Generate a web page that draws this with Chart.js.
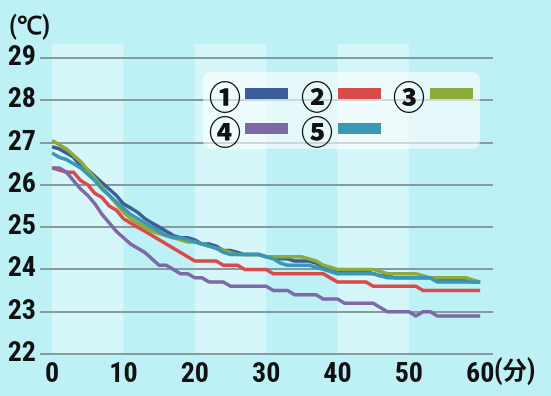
<!DOCTYPE html>
<html><head><meta charset="utf-8">
<script src="https://cdn.jsdelivr.net/npm/chart.js@4"></script>
<style>
html,body{margin:0;padding:0;background:#bef1f6;}
#wrap{position:relative;width:551px;height:396px;overflow:hidden;background:#bef1f6;}
#c{position:absolute;left:0;top:0;}
.t{position:absolute;font-family:"Roboto Condensed",sans-serif;font-weight:bold;color:#111;line-height:1;white-space:nowrap;}
.cjk{font-family:"Noto Sans CJK JP",sans-serif;}
#legend{position:absolute;left:203px;top:72px;width:277px;height:77px;background:rgba(255,255,255,0.6);border-radius:8px;}
.num{position:absolute;font-family:"Noto Sans CJK JP",sans-serif;font-weight:900;font-size:32px;line-height:32px;color:#111;}
.bar{position:absolute;width:43px;height:11px;}
</style></head>
<body>
<div id="wrap">
<canvas id="c" width="551" height="396"></canvas>
<div class="t" style="left:9px;top:13px;font-size:25px;">(℃)</div>
<div class="t" style="left:494px;top:357px;font-size:27px;">(<span class="cjk" style="font-size:24px">分</span>)</div>
<div id="legend"></div>
</div>
<script>
const minutes = [0,1,2,3,4,5,6,7,8,9,10,11,12,13,14,15,16,17,18,19,20,21,22,23,24,25,26,27,28,29,30,31,32,33,34,35,36,37,38,39,40,41,42,43,44,45,46,47,48,49,50,51,52,53,54,55,56,57,58,59,60];
const s1 = [26.9,26.85,26.75,26.65,26.45,26.35,26.2,26.05,25.9,25.75,25.55,25.45,25.35,25.2,25.1,25.0,24.9,24.8,24.75,24.75,24.7,24.6,24.6,24.55,24.45,24.45,24.4,24.35,24.35,24.35,24.3,24.3,24.25,24.25,24.2,24.2,24.2,24.15,24.05,24.0,23.95,23.95,23.95,23.95,23.95,23.9,23.85,23.85,23.8,23.8,23.8,23.8,23.8,23.8,23.75,23.75,23.75,23.75,23.75,23.7,23.7];
const s2 = [26.4,26.35,26.3,26.3,26.1,26.0,25.8,25.7,25.5,25.4,25.2,25.1,25.0,24.9,24.8,24.7,24.6,24.5,24.4,24.3,24.2,24.2,24.2,24.2,24.1,24.1,24.1,24.0,24.0,24.0,24.0,23.9,23.9,23.9,23.9,23.9,23.9,23.9,23.9,23.8,23.7,23.7,23.7,23.7,23.7,23.6,23.6,23.6,23.6,23.6,23.6,23.6,23.5,23.5,23.5,23.5,23.5,23.5,23.5,23.5,23.5];
const s3 = [27.05,26.95,26.85,26.7,26.55,26.35,26.15,25.95,25.75,25.55,25.35,25.2,25.1,25.0,24.9,24.85,24.8,24.75,24.7,24.65,24.65,24.6,24.55,24.5,24.45,24.4,24.35,24.35,24.35,24.35,24.3,24.3,24.3,24.3,24.3,24.3,24.25,24.2,24.1,24.05,24.0,24.0,24.0,24.0,24.0,24.0,23.95,23.9,23.9,23.9,23.9,23.9,23.85,23.8,23.8,23.8,23.8,23.8,23.8,23.75,23.7];
const s4 = [26.4,26.4,26.3,26.1,25.9,25.75,25.55,25.3,25.1,24.9,24.75,24.6,24.5,24.4,24.25,24.1,24.1,24.0,23.9,23.9,23.8,23.8,23.7,23.7,23.7,23.6,23.6,23.6,23.6,23.6,23.6,23.5,23.5,23.5,23.4,23.4,23.4,23.4,23.3,23.3,23.3,23.2,23.2,23.2,23.2,23.2,23.1,23.0,23.0,23.0,23.0,22.9,23.0,23.0,22.9,22.9,22.9,22.9,22.9,22.9,22.9];
const s5 = [26.75,26.65,26.6,26.5,26.4,26.25,26.1,25.9,25.75,25.6,25.45,25.3,25.2,25.1,25.0,24.9,24.8,24.75,24.75,24.7,24.65,24.6,24.55,24.5,24.4,24.35,24.35,24.35,24.35,24.35,24.3,24.25,24.15,24.1,24.1,24.1,24.1,24.05,24.0,23.95,23.9,23.9,23.9,23.9,23.9,23.9,23.85,23.8,23.8,23.8,23.8,23.8,23.8,23.8,23.7,23.7,23.7,23.7,23.7,23.7,23.7];
const seriesLabels = ['①','②','③','④','⑤'];
const seriesColors = ['#3c5e98','#d84b4b','#8cab3a','#7d69a8','#3a97b5'];
const yTicks = [22,23,24,25,26,27,28,29];
const xTicks = [0,10,20,30,40,50,60];
const bandRanges = [[0,10],[20,30],[40,50]];

const series = [s1,s2,s3,s4,s5];
const FONT = "'Roboto Condensed',sans-serif";

const legendPos = [[6,23,42,16],[98,23,135,16],[190,23,227,16],[6,58,42,51],[98,58,135,51]];
const lg = document.getElementById('legend');
seriesLabels.forEach((lab,i)=>{
  const p = legendPos[i];
  const n = document.createElement('div'); n.className='num'; n.textContent=lab;
  n.style.left=p[0]+'px'; n.style.top=(p[1]-16)+'px'; lg.appendChild(n);
  const b = document.createElement('div'); b.className='bar'; b.style.background=seriesColors[i];
  b.style.left=p[2]+'px'; b.style.top=p[3]+'px'; lg.appendChild(b);
});

const bandPlugin = {
  id:'bands',
  beforeDraw(chart){
    const {ctx, chartArea, scales:{x}} = chart;
    ctx.save();
    ctx.fillStyle = '#d5f7fa';
    bandRanges.forEach(([a,b])=>{
      const x0 = x.getPixelForValue(a), x1 = x.getPixelForValue(b);
      ctx.fillRect(x0, chartArea.top, x1-x0, chartArea.bottom-chartArea.top+1);
    });
    ctx.restore();
  }
};

new Chart(document.getElementById('c'), {
  type:'line',
  data:{
    datasets: series.map((s,i)=>({
      label: seriesLabels[i],
      data: minutes.map((m,j)=>({x:m, y:s[j]})),
      borderColor: seriesColors[i],
      backgroundColor: seriesColors[i],
      borderWidth: 3.5,
      pointRadius: 0,
      tension: 0,
      fill: false,
      order: 5-i
    }))
  },
  options:{
    responsive:false, animation:false, events:[],
    layout:{padding:{left:0,right:58,top:44,bottom:0}},
    plugins:{legend:{display:false}, tooltip:{enabled:false}},
    scales:{
      x:{
        type:'linear', min:-1.7, max:61.8,
        afterBuildTicks:s=>{s.ticks = xTicks.map(v=>({value:v}));},
        afterFit:s=>{s.height = 42;},
        grid:{display:false}, border:{display:false},
        ticks:{padding:-4, color:'#111', maxRotation:0, autoSkip:false,
          font:{family:FONT, size:28, weight:'bold'}, callback:v=>String(v)}
      },
      y:{
        min:22, max:29.33,
        afterBuildTicks:s=>{s.ticks = yTicks.map(v=>({value:v}));},
        afterFit:s=>{s.width = 40;},
        grid:{color:'#869b9f', lineWidth:2, drawTicks:false}, border:{display:false},
        ticks:{padding:4, color:'#111',
          font:{family:FONT, size:28, weight:'bold'}, callback:v=>String(v)}
      }
    }
  },
  plugins:[bandPlugin]
});
</script>
</body></html>
